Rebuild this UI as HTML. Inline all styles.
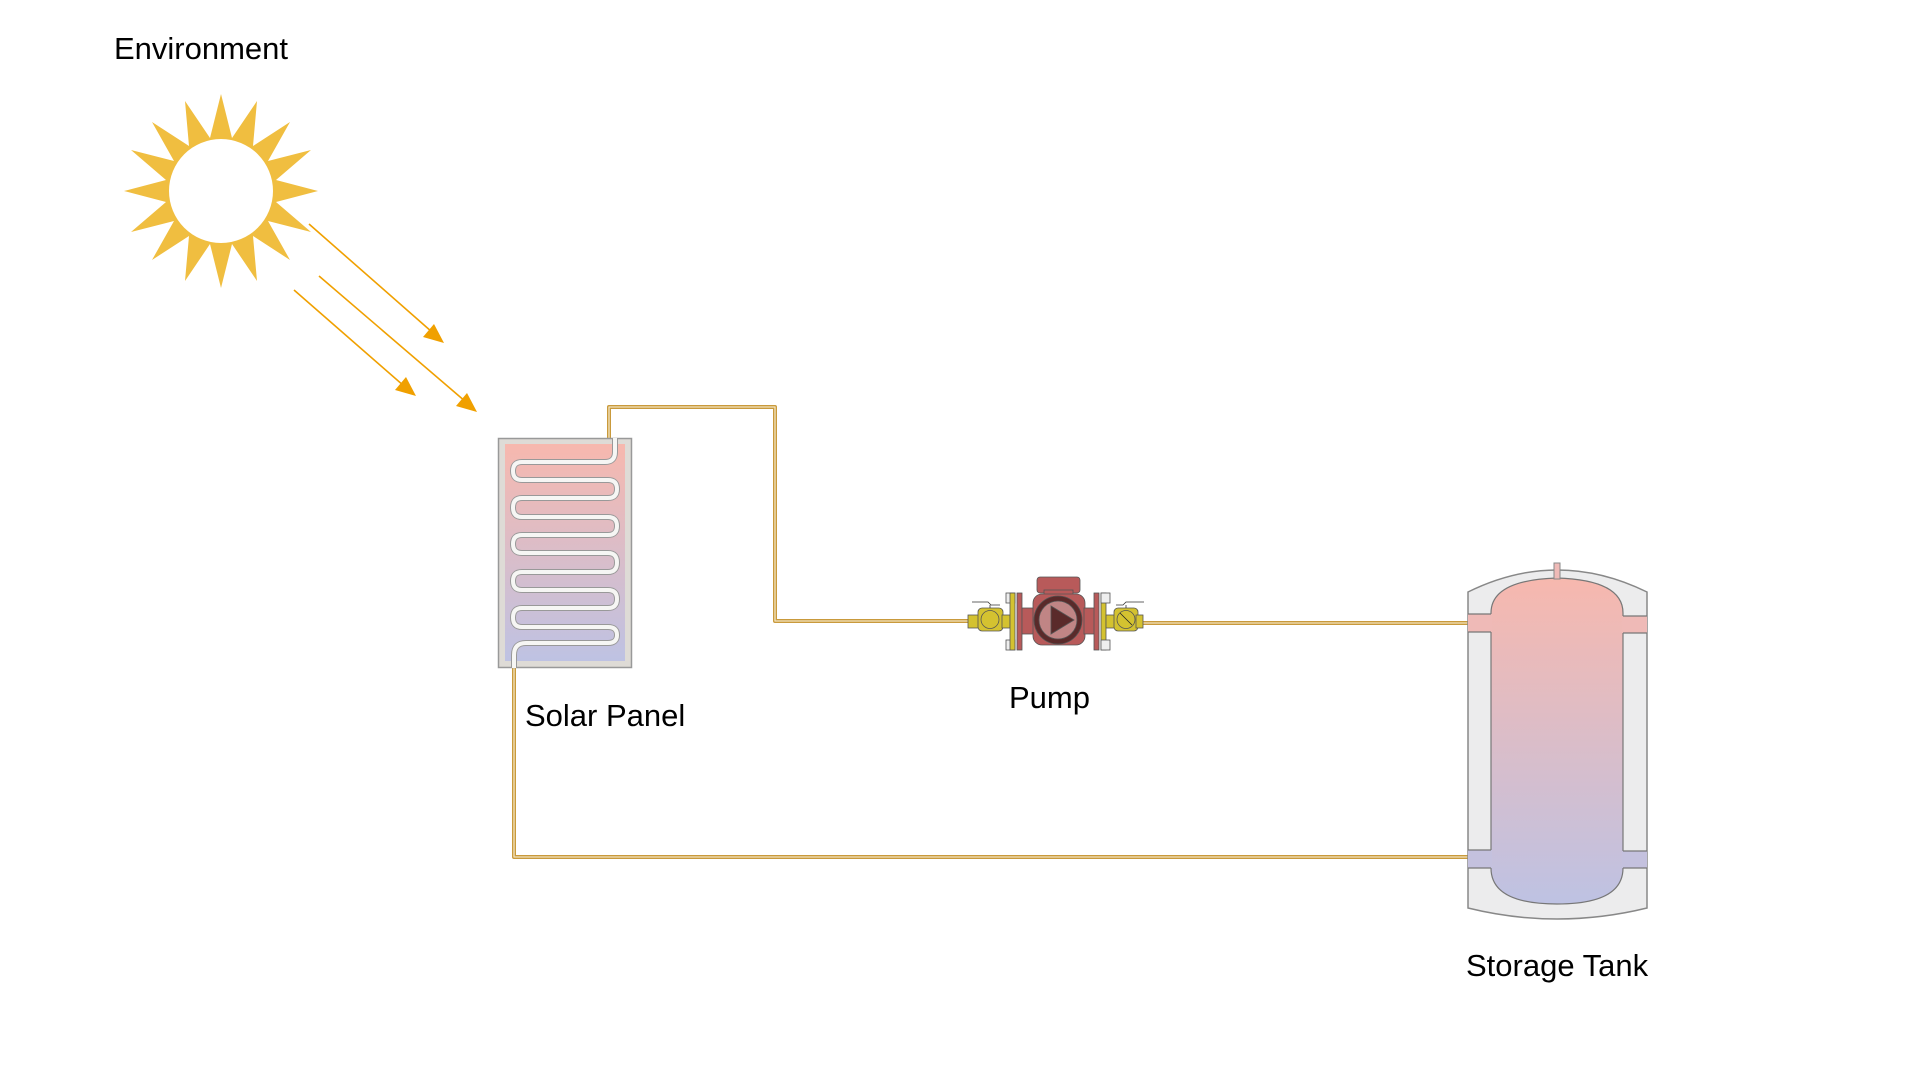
<!DOCTYPE html>
<html><head><meta charset="utf-8"><style>
html,body{margin:0;padding:0;background:#fff;width:1920px;height:1080px;overflow:hidden}
svg{display:block}
text{font-family:"Liberation Sans",sans-serif;fill:#000}
</style></head><body>
<svg width="1920" height="1080" viewBox="0 0 1920 1080" xmlns="http://www.w3.org/2000/svg">
<defs>
<linearGradient id="g" x1="0" y1="0" x2="0" y2="1">
<stop offset="0" stop-color="#f7b8ae"/><stop offset="1" stop-color="#bec2e3"/>
</linearGradient>
</defs>

<text x="114" y="59" font-size="31">Environment</text>
<text x="525" y="726" font-size="31">Solar Panel</text>
<text x="1009" y="708" font-size="31">Pump</text>
<text x="1466" y="976" font-size="31">Storage Tank</text>

<!-- sun -->
<polygon fill="#f0be40" points="
221,94 232,138 257,101 253,146 290,122 268,161 311,150 276,180 318,191 276,202 311,232 268,221 290,260 253,236 257,281 232,244 221,288 210,244 185,281 189,236 152,260 174,221 131,232 166,202 124,191 166,180 131,150 174,161 152,122 189,146 185,101 210,138"/>
<circle cx="221" cy="191" r="52" fill="#fff"/>

<!-- rays -->
<g stroke="#f0a000" stroke-width="1.6" fill="#f0a000">
<line x1="309" y1="224" x2="432" y2="332"/>
<polygon points="444,343 423,337 434,324" stroke="none"/>
<line x1="319" y1="276" x2="466" y2="402"/>
<polygon points="477,412 456,406 467,393" stroke="none"/>
<line x1="294" y1="290" x2="404" y2="386"/>
<polygon points="416,396 395,390 406,377" stroke="none"/>
</g>

<!-- pipes -->
<g fill="none" stroke-linejoin="round">
<path d="M609,438 V407 H775 V621 H985" stroke="#c99a3c" stroke-width="4"/>
<path d="M609,438 V407 H775 V621 H985" stroke="#f3e3c0" stroke-width="1.3"/>
<path d="M1140,623 H1470" stroke="#c99a3c" stroke-width="4"/>
<path d="M1140,623 H1470" stroke="#f3e3c0" stroke-width="1.3"/>
<path d="M514,668 V857 H1470" stroke="#c99a3c" stroke-width="4"/>
<path d="M514,668 V857 H1470" stroke="#f3e3c0" stroke-width="1.3"/>
</g>

<!-- solar panel -->
<rect x="498.5" y="438.5" width="133" height="229" fill="#dedbd6" stroke="#999" stroke-width="1.5"/>
<rect x="505" y="444" width="120" height="217" fill="url(#g)"/>
<path d="M615,438 V452 Q615,462 605,462 H522 Q513,462 513,471 Q513,480 522,480 H608 Q617,480 617,489 Q617,498 608,498 H522 Q513,498 513,507.5 Q513,517 522,517 H608 Q617,517 617,526 Q617,535 608,535 H522 Q513,535 513,544 Q513,553 522,553 H608 Q617,553 617,562.5 Q617,572 608,572 H522 Q513,572 513,581 Q513,590 522,590 H608 Q617,590 617,599 Q617,608 608,608 H522 Q513,608 513,617.5 Q513,627 522,627 H608 Q617,627 617,635 Q617,643 608,643 H526 Q514,643 514,655 V668" fill="none" stroke="#999" stroke-width="6"/>
<path d="M615,438 V452 Q615,462 605,462 H522 Q513,462 513,471 Q513,480 522,480 H608 Q617,480 617,489 Q617,498 608,498 H522 Q513,498 513,507.5 Q513,517 522,517 H608 Q617,517 617,526 Q617,535 608,535 H522 Q513,535 513,544 Q513,553 522,553 H608 Q617,553 617,562.5 Q617,572 608,572 H522 Q513,572 513,581 Q513,590 522,590 H608 Q617,590 617,599 Q617,608 608,608 H522 Q513,608 513,617.5 Q513,627 522,627 H608 Q617,627 617,635 Q617,643 608,643 H526 Q514,643 514,655 V668" fill="none" stroke="#f6f6f4" stroke-width="4"/>

<!-- pump -->
<g stroke="#555" stroke-width="0.8">
<rect x="968" y="615" width="12" height="13" fill="#d4c230"/>
<rect x="978" y="608" width="25" height="23" rx="4" fill="#d4c230"/>
<circle cx="990" cy="619.5" r="9" fill="none"/>
<path d="M972,602 H988 L991,605 H1000 M990,605 V608" fill="none" stroke="#333"/>
<rect x="1002" y="615" width="8" height="13" fill="#d4c230"/>
<rect x="1006" y="593" width="9" height="10" fill="#eee"/>
<rect x="1006" y="640" width="9" height="10" fill="#eee"/>
<rect x="1010" y="593" width="5" height="57" fill="#d4c230"/>
<rect x="1017" y="593" width="5" height="57" fill="#b85a5a"/>
<rect x="1022" y="608" width="12" height="26" fill="#b85a5a"/>
<rect x="1037" y="577" width="43" height="16" rx="3" fill="#b85a5a"/>
<rect x="1044" y="590" width="29" height="6" fill="#b85a5a"/>
<rect x="1033" y="594" width="52" height="51" rx="9" fill="#b85a5a"/>
<circle cx="1058" cy="620" r="24" fill="#5a2a2a"/>
<circle cx="1058" cy="620" r="19" fill="#c08585"/>
<polygon points="1051,606 1051,634 1074,620" fill="#5a2a2a"/>
<rect x="1084" y="608" width="12" height="26" fill="#b85a5a"/>
<rect x="1094" y="593" width="5" height="57" fill="#b85a5a"/>
<rect x="1101" y="593" width="5" height="57" fill="#d4c230"/>
<rect x="1101" y="593" width="9" height="10" fill="#eee"/>
<rect x="1101" y="640" width="9" height="10" fill="#eee"/>
<rect x="1106" y="615" width="10" height="13" fill="#d4c230"/>
<rect x="1114" y="608" width="24" height="23" rx="4" fill="#d4c230"/>
<rect x="1136" y="615" width="7" height="13" fill="#d4c230"/>
<circle cx="1126" cy="619.5" r="9" fill="none"/>
<line x1="1120" y1="613" x2="1132" y2="625" stroke="#222"/>
<path d="M1116,605 H1123 L1126,602 H1144 M1126,605 V608" fill="none" stroke="#333"/>
</g>

<!-- tank -->
<path d="M1468,592 Q1557,548 1647,592 V908 Q1557,930 1468,908 Z" fill="#ececed" stroke="#888" stroke-width="1.5"/>
<path d="M1491,613 Q1491,580 1557,578 Q1623,580 1623,613 V850 V868 Q1623,904 1557,904 Q1491,904 1491,868 Z" fill="url(#g)" stroke="#777" stroke-width="1.2"/>
<rect x="1468" y="614" width="24" height="18" fill="#efbab7"/>
<rect x="1622" y="616" width="25" height="17" fill="#efbab7"/>
<rect x="1468" y="850" width="24" height="18" fill="#c4c1de"/>
<rect x="1622" y="851" width="25" height="17" fill="#c4c1de"/>
<path d="M1468,614 H1491 M1468,632 H1491 M1623,616 H1647 M1623,633 H1647 M1468,850 H1491 M1468,868 H1491 M1623,851 H1647 M1623,868 H1647" stroke="#777" stroke-width="1.2"/>
<rect x="1554" y="563" width="6" height="16" fill="#efbab7" stroke="#888" stroke-width="1"/>
</svg>
</body></html>
